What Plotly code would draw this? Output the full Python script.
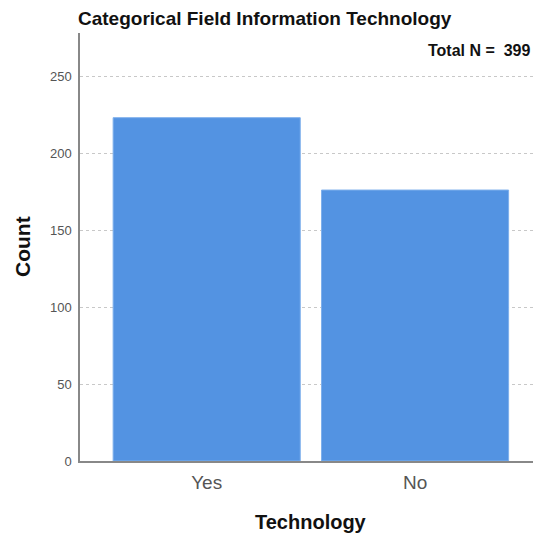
import plotly.graph_objects as go

categories = ["Yes", "No"]
counts = [223, 176]
total_n = 399
y_ticks = [0, 50, 100, 150, 200, 250]

x_pos = list(range(len(categories)))

fig = go.Figure()
fig.add_trace(go.Bar(
    x=x_pos, y=counts, width=0.898,
    marker=dict(color="#5393E2", line=dict(color="#7FB0EC", width=1)),
    hoverinfo="y",
))

fig.update_layout(
    width=534, height=537,
    margin=dict(l=80, r=1, t=33, b=76),
    paper_bgcolor="white", plot_bgcolor="white",
    showlegend=False,
    font=dict(family="Liberation Sans, Arial, sans-serif", color="#222"),
    title=dict(
        text="<b>Categorical Field Information Technology</b>",
        font=dict(size=19, color="#111"),
        x=78 / 534, xref="container", xanchor="left",
        y=1 - 18 / 537, yref="container", yanchor="middle",
    ),
    annotations=[
        dict(
            text=f"<b>Total N =  {total_n}</b>",
            xref="paper", yref="paper", x=1.0, y=0.958,
            xanchor="right", yanchor="middle", showarrow=False,
            font=dict(size=16, color="#111",
                      family="Liberation Sans Narrow, Arial Narrow, Liberation Sans, sans-serif"),
        ),
        dict(
            text="<b>Count</b>", textangle=-90,
            xref="paper", yref="paper", x=-58 / 453, y=0.5,
            xanchor="center", yanchor="middle", showarrow=False,
            font=dict(size=21, color="#111"),
        ),
        dict(
            text="<b>Technology</b>",
            xref="paper", yref="paper", x=0.51, y=-60.7 / 428,
            xanchor="center", yanchor="middle", showarrow=False,
            font=dict(size=20, color="#111"),
        ),
    ],
)

fig.update_xaxes(
    range=[-0.608, 1.566],
    tickmode="array", tickvals=x_pos, ticktext=categories,
    tickfont=dict(size=19, color="#555"),
    showline=True, linecolor="#888", linewidth=1.5,
    showgrid=False, zeroline=False, ticks="",
    ticklabelstandoff=3,
)
fig.update_yaxes(
    range=[0, 278],
    tickmode="array", tickvals=y_ticks,
    tickfont=dict(size=13, color="#555"),
    showline=True, linecolor="#888", linewidth=1.5,
    showgrid=True, gridcolor="#C8C8C8", griddash="dot", gridwidth=1,
    zeroline=False, ticks="",
    ticklabelstandoff=4,
)

fig.write_html(
    "out.html",
    config={"displayModeBar": False},
    post_script="document.body.style.margin='0';document.body.style.overflow='hidden';",
)
